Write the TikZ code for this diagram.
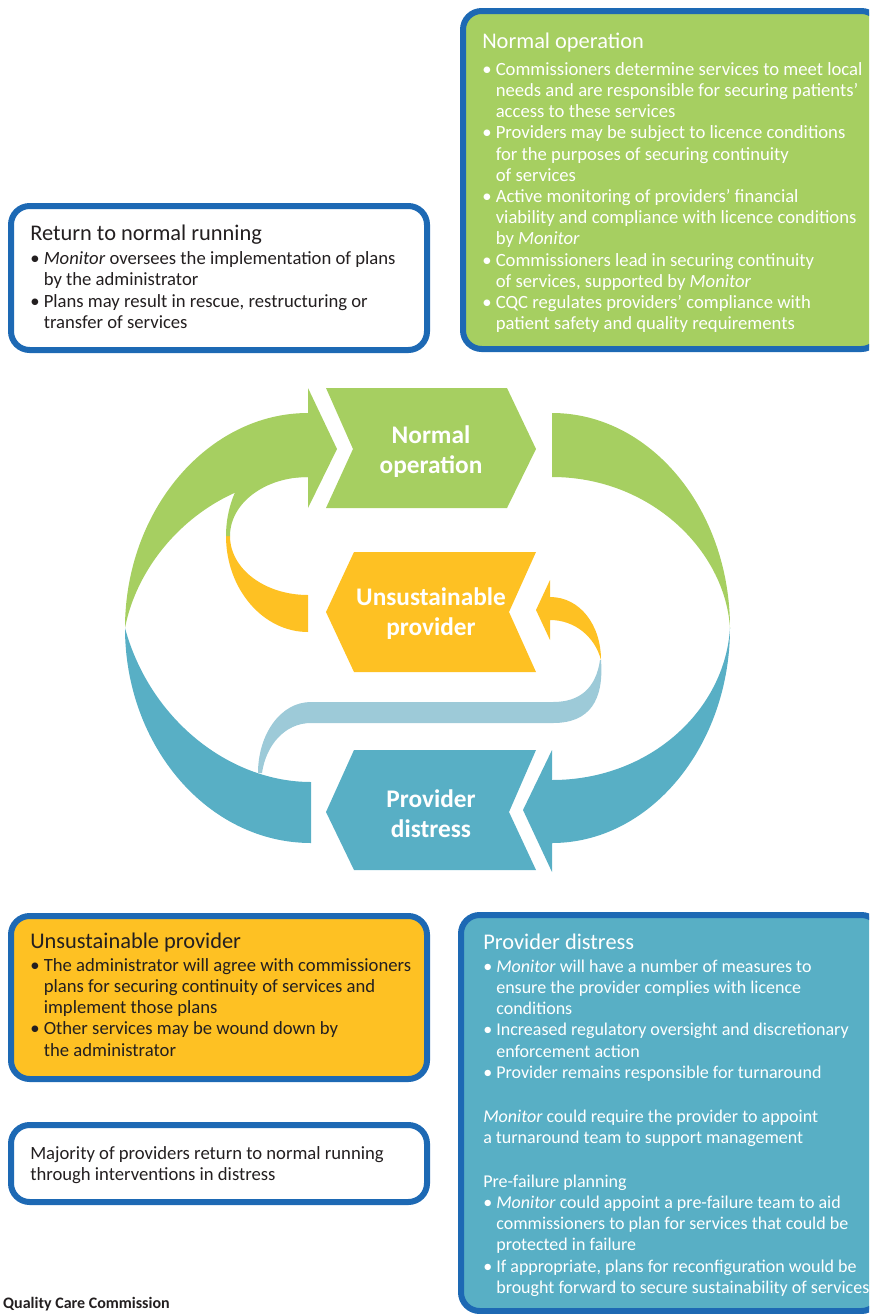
\documentclass[tikz,border=0pt]{standalone}
\usepackage{fontspec}
\setmainfont{Carlito}
\usepackage{xcolor}
\usepackage{tikz}

\definecolor{opgreen}{HTML}{A6CF61}
\definecolor{unsyellow}{HTML}{FEC123}
\definecolor{pdblue}{HTML}{58AFC5}
\definecolor{ltblue}{HTML}{9DCAD8}
\definecolor{frameblue}{HTML}{1D69B4}
\definecolor{inktext}{HTML}{231F20}

\newcommand{\bodyfont}{\fontsize{14}{15.9}\selectfont}
\newcommand{\headfont}{\fontsize{16.8}{17}\selectfont}
\newcommand{\bl}{\textbullet\ }
\newcommand{\ct}{\phantom{\textbullet\ }}

\tikzset{
  infobox/.style={line width=4.5pt, draw=frameblue, rounded corners=14pt},
  boxtext/.style={anchor=north west, inner sep=0pt, align=left, font=\bodyfont},
  stagelabel/.style={text=white, align=center, font=\fontsize{19}{22.5}\selectfont\bfseries}
}

\begin{document}
\begin{tikzpicture}[x=0.75pt,y=-0.75pt]
\useasboundingbox (0,0) rectangle (869,1314);
\clip (0,0) rectangle (869,1314);

% info boxes
\draw[infobox,fill=opgreen] (463,11) rectangle (880,349);
\draw[infobox,fill=white] (11,206) rectangle (427,350);
\draw[infobox,fill=unsyellow] (11,916) rectangle (427,1079);
\draw[infobox,fill=white] (11,1125) rectangle (427,1202);
\draw[infobox,fill=pdblue] (461,915) rectangle (880,1311);

\node[boxtext,text=white] (normtext) at (482,33) {{\headfont Normal operation}\\[4pt]
\bl Commissioners determine services to meet local\\
\ct needs and are responsible for securing patients’\\
\ct access to these services\\
\bl Providers may be subject to licence conditions\\
\ct for the purposes of securing continuity\\
\ct of services\\
\bl Active monitoring of providers’ financial\\
\ct viability and compliance with licence conditions\\
\ct by \textit{Monitor}\\
\bl Commissioners lead in securing continuity\\
\ct of services, supported by \textit{Monitor}\\
\bl CQC regulates providers’ compliance with\\
\ct patient safety and quality requirements};

\node[boxtext,text=inktext] (returntext) at (30,225) {{\headfont Return to normal running}\\[2pt]
\bl\textit{Monitor} oversees the implementation of plans\\
\ct by the administrator\\
\bl Plans may result in rescue, restructuring or\\
\ct transfer of services};

\node[boxtext,text=inktext] (unstext) at (30,933) {{\headfont Unsustainable provider}\\[1pt]
\bl The administrator will agree with commissioners\\
\ct plans for securing continuity of services and\\
\ct implement those plans\\
\bl Other services may be wound down by\\
\ct the administrator};

\node[boxtext,text=inktext] (majtext) at (30,1146) {Majority of providers return to normal running\\
through interventions in distress};

\node[boxtext,text=white,font=\fontsize{13.5}{15.9}\selectfont] (distext) at (483,934) {{\headfont Provider distress}\\[1pt]
\bl\textit{Monitor} will have a number of measures to\\
\ct ensure the provider complies with licence\\
\ct conditions\\
\bl Increased regulatory oversight and discretionary\\
\ct enforcement action\\
\bl Provider remains responsible for turnaround\\[17pt]
\textit{Monitor} could require the provider to appoint\\
a turnaround team to support management\\[17pt]
Pre-failure planning\\
\bl\textit{Monitor} could appoint a pre-failure team to aid\\
\ct commissioners to plan for services that could be\\
\ct protected in failure\\
\bl If appropriate, plans for reconfiguration would be\\
\ct brought forward to secure sustainability of services};

\node[anchor=base east,inner sep=0pt,text=inktext,font=\fontsize{12}{14}\selectfont\bfseries] (source) at (170,1308) {Quality Care Commission};

% cycle arcs
\fill[opgreen] (308,413) -- (308,388) -- (337,449) -- (308,508) -- (308,477)
  .. controls (215,477) and (140,550) .. (125,628)
  .. controls (125,510) and (208,413) .. (308,413) -- cycle;
\fill[pdblue] (125,628) .. controls (125,746) and (208,843) .. (311,843) -- (311,782)
  .. controls (230,782) and (150,720) .. (125,628) -- cycle;
\fill[opgreen] (552,413) .. controls (650,413) and (730,509) .. (730,628)
  .. controls (725,550) and (650,477) .. (552,477) -- cycle;
\fill[pdblue] (730,628) .. controls (730,746) and (650,843) .. (552,843) -- (552,872)
  -- (523,810) -- (552,750) -- (552,780)
  .. controls (650,780) and (725,710) .. (730,628) -- cycle;

% return loops
\fill[unsyellow] (308,632) .. controls (263,632) and (226,589) .. (226,536) -- (230,536)
  .. controls (230,569) and (265,595) .. (308,595) -- cycle;
\fill[opgreen] (226,536) .. controls (226,483) and (263,440) .. (308,440) -- (308,477)
  .. controls (265,477) and (230,503) .. (230,536) -- cycle;
\fill[ltblue] (601,660) .. controls (604,700) and (590,723) .. (553,723) -- (311,723)
  .. controls (285,723) and (266,745) .. (262,773) -- (258,773)
  .. controls (258,735) and (280,702) .. (311,702) -- (553,702)
  .. controls (580,702) and (596,688) .. (600,660) -- cycle;
\fill[unsyellow] (550,597) .. controls (580,597) and (601,625) .. (601,660)
  .. controls (595,637) and (575,620) .. (550,620) -- (550,640) -- (536,610) -- (550,580) -- cycle;

% stages
\fill[opgreen] (326,388) -- (507,388) -- (536,449) -- (507,508) -- (326,508) -- (353,449) -- cycle;
\fill[unsyellow] (354,552) -- (536,552) -- (509,612) -- (536,672) -- (354,672) -- (326,612) -- cycle;
\fill[pdblue] (354,750) -- (536,750) -- (509,812) -- (536,870) -- (354,870) -- (326,812) -- cycle;

\node[stagelabel] (normal) at (431,452) {Normal\\operation};
\node[stagelabel] (unsust) at (431,614) {Unsustainable\\provider};
\node[stagelabel] (distress) at (431,814) {Provider\\distress};
\end{tikzpicture}
\end{document}
